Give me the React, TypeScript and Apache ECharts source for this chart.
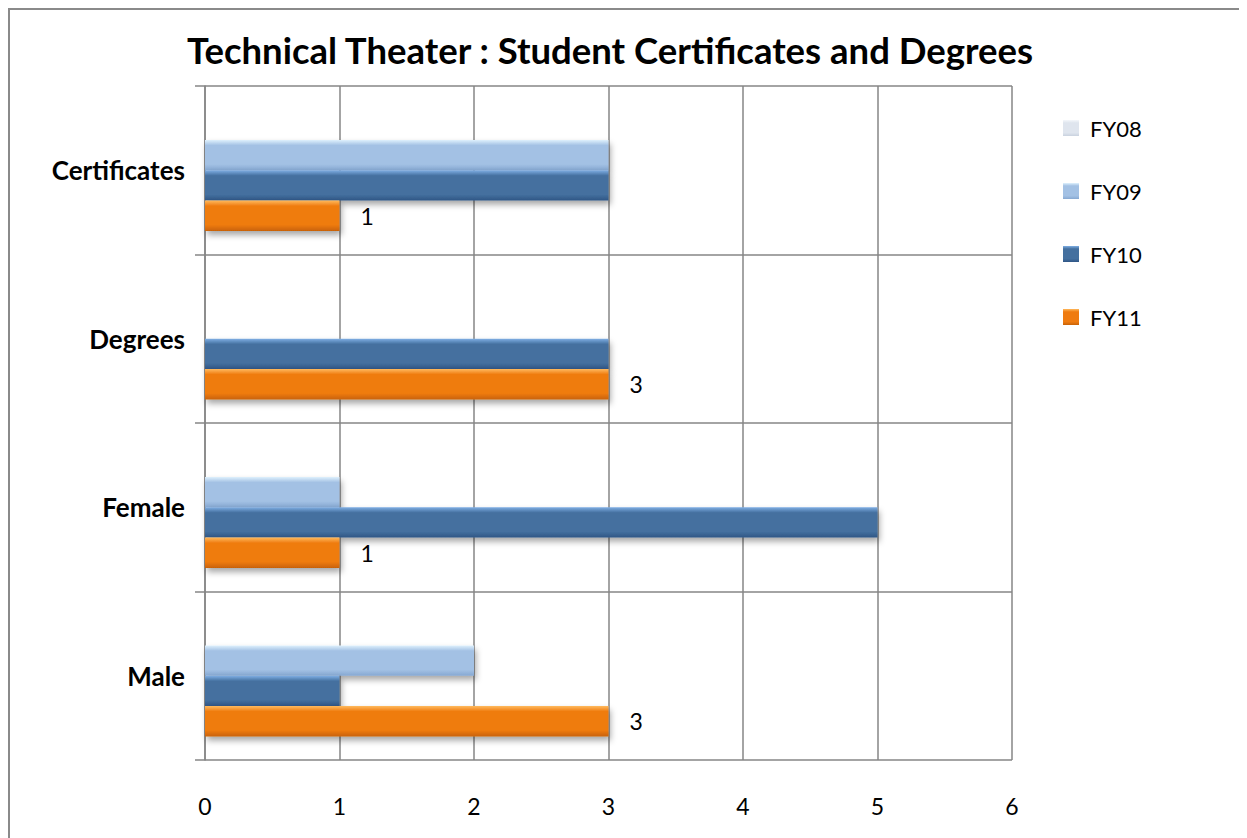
import React, { useEffect, useRef } from "react";
import * as echarts from "echarts";

const categories = ["Male", "Female", "Degrees", "Certificates"];
const seriesNames = ["FY08", "FY09", "FY10", "FY11"];
const fy08: (number | null)[] = [null, null, null, null];
const fy09: (number | null)[] = [2, 1, null, 3];
const fy10: (number | null)[] = [1, 5, 3, 3];
const fy11: (number | null)[] = [3, 1, 3, 1];
const xTicks = [0, 1, 2, 3, 4, 5, 6];

const FONT = "Lato, 'Open Sans', sans-serif";

function grad(top: string, mid: string, bottom: string) {
  return new echarts.graphic.LinearGradient(0, 0, 0, 1, [
    { offset: 0, color: top },
    { offset: 0.18, color: mid },
    { offset: 0.8, color: mid },
    { offset: 1, color: bottom },
  ]);
}

export default function App() {
  const ref = useRef<HTMLDivElement>(null);
  useEffect(() => {
    if (!ref.current) return;
    const chart = echarts.init(ref.current, null, { renderer: "svg" });
    const colors = [
      grad("#f4f7fb", "#dfe5ee", "#c9d2df"),
      grad("#dff1fd", "#a3c1e4", "#86a8d2"),
      grad("#7faee4", "#44709f", "#2f5585"),
      grad("#ffb95c", "#ef7b10", "#c96206"),
    ];
    const datas = [fy08, fy09, fy10, fy11];
    const shadow = {
      shadowBlur: 6,
      shadowOffsetX: 2,
      shadowOffsetY: 4,
      shadowColor: "rgba(0,0,0,0.35)",
    };
    chart.setOption({
      animation: false,
      title: {
        text: "Technical Theater : Student Certificates and Degrees",
        left: 597,
        textAlign: "center",
        top: 18,
        textStyle: {
          fontFamily: FONT,
          fontWeight: "bold",
          fontSize: 36.5,
          color: "#000",
        },
      },
      graphic: [
        {
          type: "rect",
          shape: { x: 1, y: 1, width: 1400, height: 1000 },
          style: { fill: "none", stroke: "#8a8a8a", lineWidth: 2 },
          silent: true,
        },
      ],
      legend: {
        orient: "vertical",
        left: 1050,
        top: 104,
        itemWidth: 16,
        itemHeight: 16,
        itemGap: 41,
        icon: "rect",
        data: seriesNames,
        textStyle: {
          fontFamily: FONT,
          fontSize: 22,
          color: "#000",
          padding: [0, 0, 0, 6],
        },
      },
      grid: { left: 197, right: 235, top: 78, bottom: 78, containLabel: false },
      xAxis: {
        type: "value",
        min: 0,
        max: 6,
        interval: 1,
        axisLine: { show: false },
        axisTick: { show: false },
        splitLine: { show: true, lineStyle: { color: "#868686", width: 1.5 } },
        axisLabel: {
          margin: 34,
          fontFamily: FONT,
          fontSize: 23,
          color: "#000",
          formatter: (v: number) => (xTicks.includes(v) ? String(v) : ""),
        },
      },
      yAxis: {
        type: "category",
        data: categories,
        axisLine: { show: true, lineStyle: { color: "#868686", width: 1.5 } },
        axisTick: { show: true, length: 10, lineStyle: { color: "#868686", width: 1.5 } },
        splitLine: { show: true, lineStyle: { color: "#868686", width: 1.5 } },
        axisLabel: {
          margin: 20,
          fontFamily: FONT,
          fontWeight: "bold",
          fontSize: 26,
          color: "#000",
        },
      },
      series: seriesNames.map((name, i) => ({
        name,
        type: "bar",
        data: datas[i],
        barGap: "0%",
        barCategoryGap: "28%",
        itemStyle: { color: colors[i], ...shadow },
        label:
          i === 3
            ? {
                show: true,
                position: "right",
                distance: 21,
                fontFamily: FONT,
                fontSize: 23,
                color: "#000",
              }
            : { show: false },
      })),
    });
    return () => chart.dispose();
  }, []);
  return <div ref={ref} style={{ width: 1239, height: 830 }} />;
}
